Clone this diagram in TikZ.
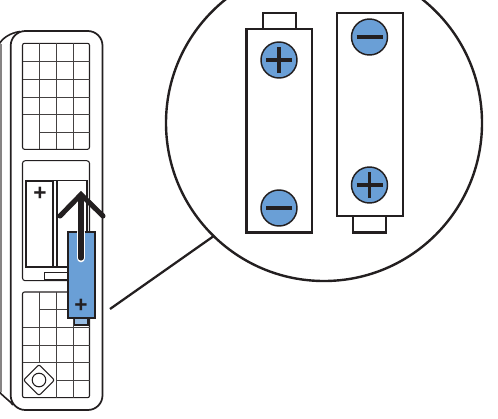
\documentclass[tikz,border=0pt]{standalone}
\usepackage{fontspec}
\setmainfont{Liberation Sans}
\definecolor{cellblue}{HTML}{6A9FD6}
\definecolor{ink}{HTML}{231F20}
\tikzset{
  x=0.75pt,y=-0.75pt,
  thinline/.style={draw=ink,line width=0.8pt},
  gridline/.style={draw=ink!85,line width=0.68pt},
  cellbody/.style={draw=ink,line width=1.6pt,fill=white},
  blueterm/.style={circle,draw=ink,line width=1.1pt,fill=cellblue,minimum size=27pt,inner sep=0pt},
  signbar/.style={draw=ink,line width=2.9pt},
  pluslabel/.style={text=ink,font=\fontsize{17}{17}\selectfont\bfseries,inner sep=0pt},
}
\newcommand{\plusmark}[1]{\draw[signbar] ([xshift=-9.75pt]#1.center) -- ([xshift=9.75pt]#1.center) ([yshift=-9.75pt]#1.center) -- ([yshift=9.75pt]#1.center);}
\newcommand{\minusmark}[1]{\draw[signbar] ([xshift=-9.75pt]#1.center) -- ([xshift=9.75pt]#1.center);}
\begin{document}
\begin{tikzpicture}
\useasboundingbox (0,0) rectangle (498,418);
\clip (0,0) rectangle (498,418);
% device shell
\draw[draw=ink,line width=1.2pt] (-2,46) .. controls (2,38) and (10,33) .. (20,31.5);
\draw[draw=ink,line width=1.2pt] (-2,390) .. controls (2,396) and (8,399) .. (13,405);
\draw[draw=ink!55,line width=1pt] (1,44) -- (1,392);
\draw[draw=ink,line width=1.3pt,rounded corners=11pt] (10.7,31) rectangle (102.5,410);
% upper keypad
\draw[thinline,rounded corners=1.5pt] (22.5,43.3) rectangle (89.5,149.3);
\foreach \vx in {39,56,73} \draw[gridline] (\vx,43.3) -- (\vx,149.3);
\foreach \hy in {61.3,79,97,114.5} \draw[gridline] (22.5,\hy) -- (89.5,\hy);
\draw[gridline] (39,132) -- (89.5,132);
% middle panel
\draw[thinline,rounded corners=2pt] (22.5,160.7) rectangle (89.5,280.7);
\draw[thinline] (53,180.5) rectangle (87,267);
\draw[thinline] (57,181) -- (57,267);
\draw[thinline] (44.5,272.5) rectangle (70,280);
\draw[draw=ink,line width=1.9pt,fill=white] (26,181) rectangle (53,267);
\node[pluslabel] (plusA) at (40,193.5) {+};
% lower keypad
\draw[thinline,rounded corners=1.5pt] (22.5,292) rectangle (89.5,397.7);
\draw[gridline] (39,292) -- (39,362);
\foreach \vx in {56,73} \draw[gridline] (\vx,292) -- (\vx,397.7);
\draw[gridline] (39,309.5) -- (89.5,309.5);
\foreach \hy in {327,345,362} \draw[gridline] (22.5,\hy) -- (89.5,\hy);
\draw[gridline] (56,380) -- (89.5,380);
\draw[thinline,fill=white,rounded corners=1.5pt] (39,364.5) -- (54.5,380) -- (39,395.5) -- (23.5,380) -- cycle;
\draw[thinline] (39,380) circle[radius=6.8];
% blue battery being inserted
\draw[draw=ink,line width=1.3pt,fill=cellblue!70] (74.5,317) rectangle (88,325);
\draw[draw=ink,line width=1.9pt,fill=cellblue] (68,232) rectangle (95,318);
\node[pluslabel] (plusB) at (81,305.5) {+};
% arrow
\draw[draw=white,line width=6.5pt,line cap=round] (81,258) -- (81,232);
\draw[draw=ink,line width=3.8pt,line cap=round] (81,258) -- (81,196);
\draw[draw=ink,line width=3.8pt,line cap=round,line join=miter] (60,216) -- (81,194.5) -- (103,216);
% leader and magnifier
\coordinate (leadA) at (110,309);
\coordinate (leadB) at (214.5,235.5);
\draw[draw=ink,line width=1.7pt] (leadA) -- (leadB);
\draw[draw=ink,line width=1.8pt,fill=white] (324,123) circle[radius=158];
% left enlarged cell
\draw[cellbody] (263,12.7) rectangle (296,29);
\draw[cellbody] (246.5,29) rectangle (312,232.5);
\node[blueterm] (tp) at (279,60) {};
\plusmark{tp}
\node[blueterm] (tm) at (279,208) {};
\minusmark{tm}
% right enlarged cell
\draw[cellbody] (353,216) rectangle (386,232.5);
\draw[cellbody] (337,13) rectangle (403,216);
\node[blueterm] (um) at (369.5,37) {};
\minusmark{um}
\node[blueterm] (up) at (369.5,185) {};
\plusmark{up}
\end{tikzpicture}
\end{document}
